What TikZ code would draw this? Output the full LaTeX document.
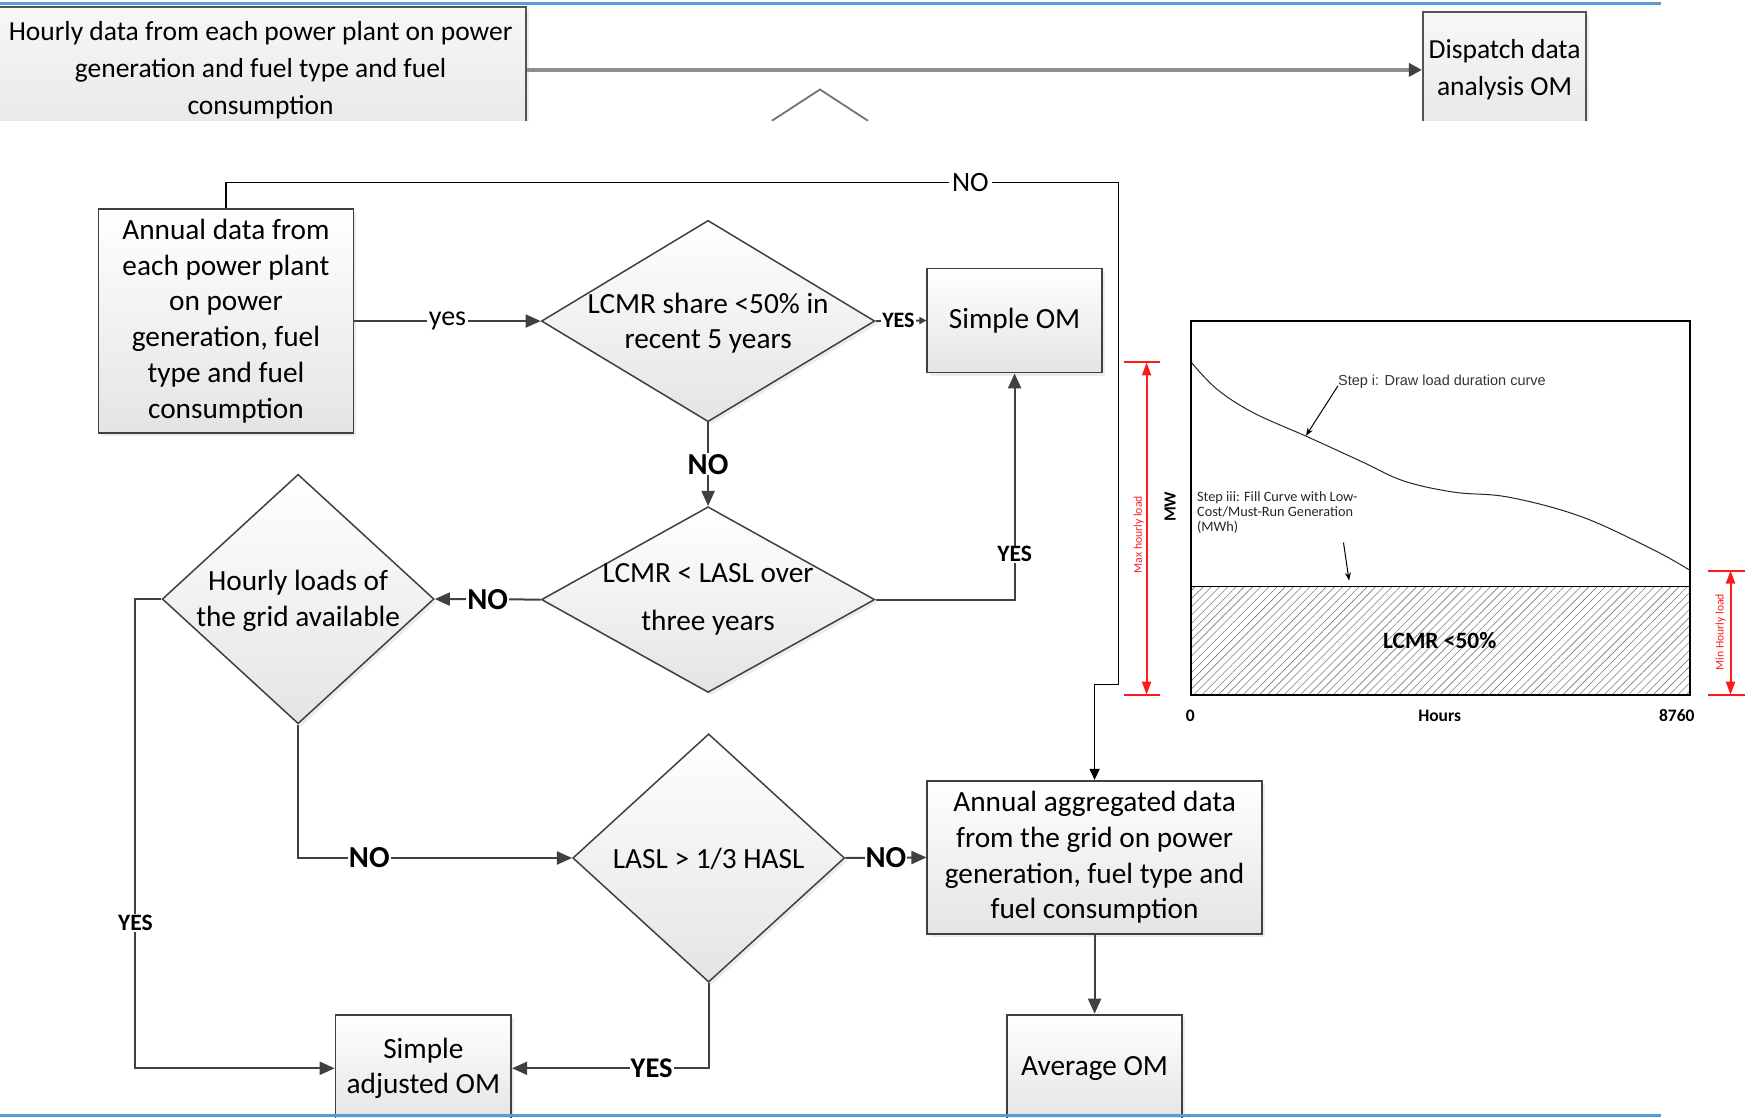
\documentclass[tikz,border=0pt]{standalone}
\usepackage{fontspec}
\setmainfont{Carlito}
\newfontfamily\arialfont{Liberation Sans}
\usetikzlibrary{arrows.meta,shadows,patterns.meta,shapes.geometric}

% one drawing unit in points
\newcommand\px{1.1186pt}
\definecolor{edge}{HTML}{404040}
\definecolor{rulecol}{HTML}{5B9BD5}
\definecolor{boxbot}{HTML}{E4E4E4}
\definecolor{feedgray}{HTML}{8E8E8E}
\definecolor{dimred}{HTML}{FF1A1A}

\tikzset{
  sz/.style 2 args={minimum width=#1*\px, minimum height=#2*\px},
  softshadow/.style={drop shadow={opacity=0.15, shadow xshift=3pt, shadow yshift=-3pt}},
  procbox/.style={rectangle, draw=edge, line width=1.8pt, top color=white, bottom color=boxbot,
    softshadow, inner sep=0pt, align=center, font=\fontsize{29.3}{35.8}\selectfont},
  stripbox/.style={rectangle, draw=edge!90, line width=2pt, top color=white!97!black, bottom color=black!9,
    softshadow, inner sep=0pt, align=center, font=\fontsize{27.5}{37}\selectfont},
  decision/.style={diamond, draw=edge, line width=1.5pt, top color=white, bottom color=boxbot,
    softshadow, inner sep=0pt},
  dtext/.style={align=center, font=\fontsize{29.3}{35.8}\selectfont, inner sep=0pt},
  flow/.style={draw=edge, line width=2pt, -{Triangle[length=15pt,width=13pt]}},
  smallflow/.style={draw=edge, line width=2pt, -{Triangle[length=7pt,width=7pt]}},
  loopline/.style={draw=black, line width=1.6pt, -{Triangle[length=11pt,width=10pt]}},
  lbl/.style={fill=white, inner sep=1pt, font=\fontsize{28}{30}\selectfont},
  nolbl/.style={fill=white, inner sep=1pt, font=\fontsize{30.5}{32}\selectfont\bfseries},
  yeslbl/.style={fill=white, inner sep=1pt, font=\fontsize{28.5}{30}\selectfont\bfseries},
  sblbl/.style={fill=white, inner sep=1pt, font=\fontsize{23.5}{25}\selectfont\bfseries},
  tinylbl/.style={fill=white, inner sep=1pt, font=\fontsize{22}{24}\selectfont\bfseries},
  dimline/.style={draw=dimred, line width=2pt},
  dimarrow/.style={draw=dimred, line width=2pt, {Triangle[length=13pt,width=9pt]}-{Triangle[length=13pt,width=9pt]}},
  dimtext/.style={text=dimred, rotate=90, font=\fontsize{11.7}{13}\selectfont, inner sep=0pt},
  axislbl/.style={font=\fontsize{17.5}{19}\selectfont\bfseries, inner sep=0pt},
  note/.style={anchor=west, inner sep=0pt, align=left},
  pointer/.style={draw=black, line width=1pt, -{Stealth[length=8pt,width=6pt]}},
}

\begin{document}
\begin{tikzpicture}[x=1.1186pt, y=-1.1186pt]
\useasboundingbox (0,0) rectangle (1568,999);
\clip (0,0) rectangle (1568,999);

% ---------- upper strip: hourly dispatch route ----------
\begin{scope}
  \clip (-5,0) rectangle (1568,108);
  \node[stripbox, sz={474}{113}] (HD) at (233,62.5)
    {Hourly data from each power plant on power\\generation and fuel type and fuel\\consumption};
  \node[stripbox, sz={146}{103}] (DP) at (1345,62.5) {Dispatch data\\analysis OM};
  \draw[feedgray, line width=3.5pt, -{Triangle[length=13pt,width=13pt,color=edge]}] (HD.east) -- (DP.west);
  \draw[black!55, line width=1.8pt] (690,108) -- (733,80) -- (776,108);
\end{scope}

% ---------- flow chart ----------
\node[procbox, sz={228}{200}] (A) at (202,287)
  {Annual data from\\each power plant\\on power\\generation, fuel\\type and fuel\\consumption};

\node[decision, sz={298}{180}] (D1) at (633,287) {};
\node[dtext] (D1t) at (633,289) {LCMR share <50\% in\\recent 5 years};

\node[procbox, sz={156}{93}] (SOM) at (907,286.5) {Simple OM};

\node[decision, sz={298}{166}] (D2) at (633,536) {};
\node[dtext] (D2t) at (633,536) {LCMR < LASL over\\[12pt]three years};

\node[decision, sz={243}{223}] (D3) at (266.5,535.5) {};
\node[dtext] (D3t) at (266.5,537) {Hourly loads of\\the grid available};

\node[decision, sz={243}{222}] (D4) at (633.5,767) {};
\node[dtext] (D4t) at (633.5,768) {LASL > 1/3 HASL};

\node[procbox, sz={157}{96}] (SAOM) at (378.5,955) {Simple\\adjusted OM};
\node[procbox, sz={299}{137}] (AAD) at (978.5,766.5)
  {Annual aggregated data\\from the grid on power\\generation, fuel type and\\fuel consumption};
\node[procbox, sz={156}{96}] (AVG) at (978.5,955) {Average OM};

% bend points
\coordinate (tr) at (1000,163);
\coordinate (rb) at (1000,612);
\coordinate (rj) at (978.5,612);
\coordinate (yl) at (121,535.5);

% connectors
\draw[loopline] (A.north) |- node[lbl, pos=0.917, inner sep=3pt] {NO} (tr) -- (rb) -- (rj) -- (AAD.north);
\draw[flow] (A.east) -- node[lbl, inner sep=2pt] {yes} (D1.west);
\draw[smallflow] (D1.east) -- node[tinylbl, pos=0.45] {YES} (SOM.west);
\draw[flow] (D1.south) -- node[nolbl] {NO} (D2.north);
\draw[flow] (D2.east) -| node[sblbl, pos=0.6] {YES} (SOM.south);
\draw[flow] (D2.west) -- node[nolbl] {NO} (D3.east);
\draw[flow] (D3.west) -- (yl) |- node[sblbl, pos=0.345] {YES} (SAOM.west);
\draw[flow] (D3.south) |- node[nolbl, pos=0.63] {NO} (D4.west);
\draw[flow] (D4.east) -- node[nolbl, pos=0.5] {NO} (AAD.west);
\draw[flow] (D4.south) |- node[yeslbl, pos=0.645] {YES} (SAOM.east);
\draw[flow] (AAD.south) -- (AVG.north);

% ---------- load duration chart ----------
\path[pattern={Lines[angle=45,distance=5.8pt,line width=0.6pt]}, pattern color=black!52]
  (1065,524) rectangle (1511,621);
\draw[black, line width=1.2pt] (1065,524) -- (1511,524);
\draw[black, line width=1.8pt] (1065,287) rectangle (1511,621);
\draw[black!85, line width=1pt] plot[smooth, tension=0.6] coordinates
  {(1065,324) (1088,348) (1120.5,369) (1170,391) (1218,413) (1255,430) (1300,440)
   (1349,444.5) (1414,462) (1479,492) (1511,510)};

\node[note, font=\arialfont\fontsize{14.5}{16}\selectfont, text=black!80] (s1) at (1196,341) {Step i: Draw load duration curve};
\coordinate (s1p) at (1167.5,389.5);
\draw[pointer] (1196,345) -- (s1p);

\node[note, font=\fontsize{14.3}{14.8}\selectfont, text=black!85] (s3) at (1070,458)
  {Step iii: Fill Curve with Low-\\Cost/Must-Run Generation\\(MWh)};
\coordinate (s3a) at (1201,485);
\coordinate (s3b) at (1206,519);
\draw[pointer] (s3a) -- (s3b);

\node[font=\fontsize{23.4}{25}\selectfont\bfseries, inner sep=0pt] (lcmr) at (1287,573) {LCMR <50\%};
\node[font=\fontsize{17}{19}\selectfont\bfseries, inner sep=0pt, rotate=90] (mw) at (1046,453) {MW};
\node[axislbl] (h0) at (1064,640) {0};
\node[axislbl] (hh) at (1287,640) {Hours};
\node[axislbl] (h8760) at (1499,640) {8760};

% red dimension markers
\draw[dimline] (1005,324) -- (1037,324);
\draw[dimline] (1005,621) -- (1037,621);
\draw[dimarrow] (1025,324) -- (1025,621);
\node[dimtext] (maxl) at (1018,478) {Max hourly load};

\draw[dimline] (1527,510) -- (1560,510);
\draw[dimline] (1527,621) -- (1560,621);
\draw[dimarrow] (1547,510) -- (1547,621);
\node[dimtext] (minl) at (1538,565) {Min Hourly load};

% ---------- page rules ----------
\draw[rulecol, line width=2.5pt] (0,3) -- (1485,3);
\draw[rulecol, line width=2.5pt] (0,997) -- (1485,997);
\end{tikzpicture}
\end{document}
